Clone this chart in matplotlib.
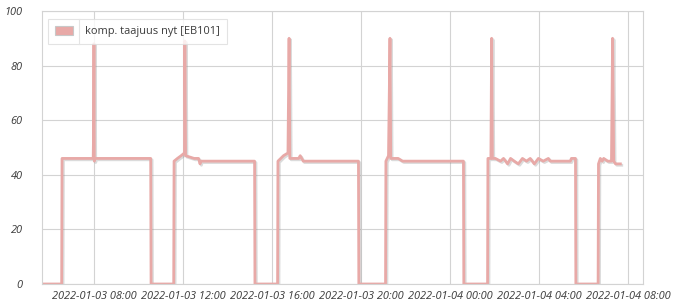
import pandas as pd
import matplotlib
matplotlib.use('Agg')
import matplotlib.pyplot as plt
import matplotlib.dates as mdates
import matplotlib.patheffects as pe
from matplotlib.patches import Patch
from matplotlib.lines import Line2D
from matplotlib.transforms import IdentityTransform

# compressor frequency readings (time, Hz)
times = [
    "2022-01-03 05:40", "2022-01-03 06:33", "2022-01-03 06:34", "2022-01-03 07:58",
    "2022-01-03 07:59", "2022-01-03 08:00", "2022-01-03 08:01", "2022-01-03 08:03",
    "2022-01-03 10:33", "2022-01-03 10:34",
    "2022-01-03 11:35", "2022-01-03 11:36", "2022-01-03 11:45", "2022-01-03 11:55",
    "2022-01-03 12:04", "2022-01-03 12:05", "2022-01-03 12:07", "2022-01-03 12:30",
    "2022-01-03 12:42", "2022-01-03 12:46", "2022-01-03 12:48", "2022-01-03 15:13",
    "2022-01-03 15:14",
    "2022-01-03 16:15", "2022-01-03 16:16", "2022-01-03 16:31", "2022-01-03 16:43",
    "2022-01-03 16:46", "2022-01-03 16:48", "2022-01-03 17:12", "2022-01-03 17:16",
    "2022-01-03 17:24", "2022-01-03 19:53", "2022-01-03 19:54",
    "2022-01-03 21:06", "2022-01-03 21:07", "2022-01-03 21:14", "2022-01-03 21:18",
    "2022-01-03 21:20", "2022-01-03 21:40", "2022-01-03 21:52", "2022-01-04 00:36",
    "2022-01-04 00:37",
    "2022-01-04 01:41", "2022-01-04 01:42", "2022-01-04 01:50", "2022-01-04 01:52",
    "2022-01-04 01:54", "2022-01-04 02:02", "2022-01-04 02:16", "2022-01-04 02:24",
    "2022-01-04 02:35", "2022-01-04 02:43", "2022-01-04 02:53", "2022-01-04 03:04",
    "2022-01-04 03:15", "2022-01-04 03:26", "2022-01-04 03:36", "2022-01-04 03:47",
    "2022-01-04 03:58", "2022-01-04 04:11", "2022-01-04 04:25", "2022-01-04 04:30",
    "2022-01-04 05:24", "2022-01-04 05:27", "2022-01-04 05:38", "2022-01-04 05:39",
    "2022-01-04 06:39", "2022-01-04 06:40", "2022-01-04 06:45", "2022-01-04 06:50",
    "2022-01-04 06:54", "2022-01-04 07:05", "2022-01-04 07:15", "2022-01-04 07:18",
    "2022-01-04 07:21", "2022-01-04 07:26", "2022-01-04 07:39",
]
values = [
    0, 0, 46, 46,
    56, 88, 45, 46,
    46, 0,
    0, 45, 46, 47,
    48, 89, 47, 46,
    46, 44, 45, 45,
    0,
    0, 45, 47, 48,
    90, 46, 46, 47,
    45, 45, 0,
    0, 45, 47, 90,
    46, 46, 45, 45,
    0,
    0, 46, 46, 90,
    46, 46, 45, 46,
    44, 46, 45, 44,
    46, 45, 46, 44,
    46, 45, 46, 45,
    45, 46, 46, 0,
    0, 44, 46, 45,
    46, 45, 45, 90,
    45, 44, 44,
]
series_name = "komp. taajuus nyt [EB101]"
x_ticks = ["2022-01-03 08:00", "2022-01-03 12:00", "2022-01-03 16:00", "2022-01-03 20:00",
           "2022-01-04 00:00", "2022-01-04 04:00", "2022-01-04 08:00"]
y_ticks = [0, 20, 40, 60, 80, 100]
x_range = ["2022-01-03 05:40", "2022-01-04 08:40"]

line_color = "#e8a9a7"
grid_color = "#d3d3d3"
text_color = "#3a3a3a"

fig = plt.figure(figsize=(6.76, 3.08), dpi=100)
ax = fig.add_axes([42 / 676, 24 / 308, 601 / 676, 273 / 308])

t = pd.to_datetime(times)
ax.plot(t, values, color=line_color, linewidth=2.0, solid_joinstyle='round',
        path_effects=[pe.SimpleLineShadow(offset=(1.0, -1.0), shadow_color='#888888', alpha=0.3),
                      pe.Normal()])

ax.set_xlim(pd.to_datetime(x_range[0]), pd.to_datetime(x_range[1]))
ax.set_ylim(0, 100)
ax.set_xticks(pd.to_datetime(x_ticks))
ax.xaxis.set_major_formatter(mdates.DateFormatter("%Y-%m-%d %H:%M"))
ax.set_yticks(y_ticks)

ax.grid(True, color=grid_color, linewidth=0.8)
ax.set_axisbelow(True)
for s in ax.spines.values():
    s.set_color(grid_color)
    s.set_linewidth(0.8)

ax.tick_params(length=0, colors=text_color)
ax.tick_params(axis='x', pad=5)
ax.tick_params(axis='y', pad=14)
for lbl in ax.get_xticklabels() + ax.get_yticklabels():
    lbl.set_fontfamily("Open Sans")
    lbl.set_fontstyle("italic")
    lbl.set_fontsize(7.9)

handle = Patch(facecolor=line_color, edgecolor='#c8c8c8', linewidth=0.8)
leg = ax.legend([handle], [series_name], loc='upper left', bbox_to_anchor=(6 / 601, 1 - 8 / 273),
                frameon=True, fancybox=False, borderaxespad=0, handlelength=1.7, handleheight=1.0,
                handletextpad=1.1, borderpad=0.6,
                prop={'family': 'Open Sans', 'size': 7.9})
leg.get_frame().set_edgecolor('#dddddd')
leg.get_frame().set_linewidth(0.8)
for txt in leg.get_texts():
    txt.set_color(text_color)

# thin divider between swatch and label, as in the legend table
fig.canvas.draw()
lb = leg.get_window_extent()
sw = leg.get_patches()[0].get_window_extent()
xd = sw.x1 + 6
fig.add_artist(Line2D([xd, xd], [lb.y0, lb.y1], transform=IdentityTransform(),
                      color='#e4e4e4', linewidth=0.8))

plt.savefig("out.png", dpi=100)
plt.close()
